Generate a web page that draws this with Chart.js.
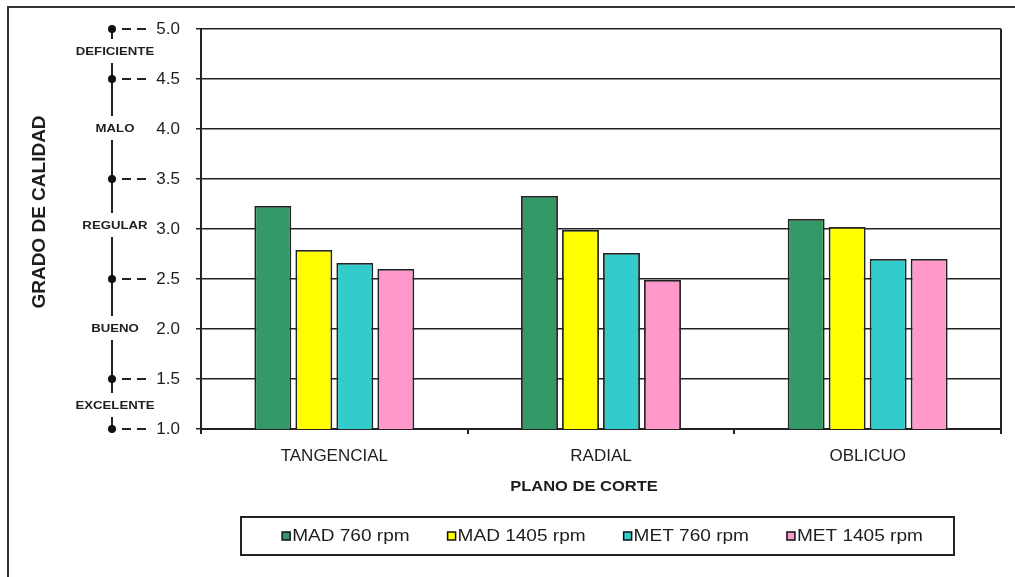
<!DOCTYPE html>
<html>
<head>
<meta charset="utf-8">
<style>
  html, body { margin: 0; padding: 0; background: #ffffff; }
  #wrap { width: 1015px; height: 577px; position: relative; }
</style>
<script src="https://cdn.jsdelivr.net/npm/chart.js@4/dist/chart.umd.min.js"></script>
</head>
<body>
<div id="wrap"><canvas id="c" width="1015" height="577"></canvas></div>
<script>
// Cutting plane categories and the four machining conditions
const categories = ['TANGENCIAL', 'RADIAL', 'OBLICUO'];
const seriesNames = ['MAD 760 rpm', 'MAD 1405 rpm', 'MET 760 rpm', 'MET 1405 rpm'];
const mad760  = [3.23, 3.33, 3.10];
const mad1405 = [2.79, 2.99, 3.02];
const met760  = [2.66, 2.76, 2.70];
const met1405 = [2.60, 2.49, 2.70];
const seriesColors = ['#339966', '#ffff00', '#33cccc', '#ff99cc'];

// Quality grade scale shown beside the value axis
const gradeNames   = ['DEFICIENTE', 'MALO', 'REGULAR', 'BUENO', 'EXCELENTE'];
const gradeCenters = [4.77, 4.0, 3.03, 2.0, 1.23];
const gradeBounds  = [5.0, 4.5, 3.5, 2.5, 1.5, 1.0];

const yMin = 1.0, yMax = 5.0, yStep = 0.5;
const yTitle = 'GRADO DE CALIDAD';
const xTitle = 'PLANO DE CORTE';

const FONT = "'Liberation Sans', Arial, sans-serif";
const INK = '#1e1e1e';
const LINE = '#222222';

function stretchedText(ctx, text, x, y, font, align, sx) {
  ctx.save();
  ctx.font = font;
  ctx.textBaseline = 'middle';
  ctx.textAlign = align;
  ctx.translate(x, y);
  ctx.scale(sx, 1);
  ctx.fillText(text, 0, 0);
  ctx.restore();
}

const decor = {
  id: 'decor',
  afterDraw(chart) {
    const ctx = chart.ctx;
    const area = chart.chartArea;
    const y = chart.scales.y;

    ctx.save();
    ctx.strokeStyle = LINE;
    ctx.fillStyle = INK;

    // right edge of the plot frame
    ctx.lineWidth = 2;
    ctx.beginPath();
    ctx.moveTo(area.right, area.top);
    ctx.lineTo(area.right, area.bottom);
    ctx.stroke();

    // outer chart frame
    ctx.strokeStyle = '#333333';
    ctx.lineWidth = 2;
    ctx.strokeRect(8, 7, 1200, 800);

    // quality grade scale: vertical rule, dots, dashed leaders, labels
    const sx = 112;
    const top = y.getPixelForValue(gradeBounds[0]);
    const bottom = y.getPixelForValue(gradeBounds[gradeBounds.length - 1]);
    const gaps = gradeCenters.map(v => {
      const c = y.getPixelForValue(v);
      return [c - 13, c + 11];
    }).sort((a, b) => a[0] - b[0]);

    ctx.strokeStyle = LINE;
    ctx.lineWidth = 2;
    ctx.beginPath();
    let cur = top;
    gaps.forEach(g => {
      if (g[0] > cur) { ctx.moveTo(sx, cur); ctx.lineTo(sx, g[0]); }
      cur = Math.max(cur, g[1]);
    });
    if (cur < bottom) { ctx.moveTo(sx, cur); ctx.lineTo(sx, bottom); }
    ctx.stroke();

    gradeBounds.forEach(v => {
      const py = y.getPixelForValue(v);
      ctx.beginPath();
      ctx.arc(sx, py, 4, 0, Math.PI * 2);
      ctx.fillStyle = '#111';
      ctx.fill();
      ctx.save();
      ctx.setLineDash([9, 6]);
      ctx.lineWidth = 1.8;
      ctx.beginPath();
      ctx.moveTo(sx + 10, py);
      ctx.lineTo(148, py);
      ctx.stroke();
      ctx.restore();
    });

    ctx.fillStyle = INK;
    gradeNames.forEach((name, i) => {
      const py = y.getPixelForValue(gradeCenters[i]);
      stretchedText(ctx, name, 115, py, `bold 11px ${FONT}`, 'center', 1.2);
    });

    // axis titles
    ctx.save();
    ctx.translate(40, 212);
    ctx.rotate(-Math.PI / 2);
    ctx.font = `bold 19px ${FONT}`;
    ctx.textAlign = 'center';
    ctx.textBaseline = 'middle';
    ctx.fillText(yTitle, 0, 0);
    ctx.restore();

    stretchedText(ctx, xTitle, 584, 487, `bold 15px ${FONT}`, 'center', 1.1);

    // legend box
    const boxL = 241, boxT = 517, boxW = 713, boxH = 38;
    ctx.strokeStyle = LINE;
    ctx.lineWidth = 2;
    ctx.strokeRect(boxL, boxT, boxW, boxH);

    const lf = `16px ${FONT}`;
    const lsx = 1.19;
    ctx.font = lf;
    const sw = 8, tgap = 2, igap = 38;
    const ds = chart.data.datasets;
    const widths = ds.map(d => sw + tgap + ctx.measureText(d.label).width * lsx);
    const total = widths.reduce((a, b) => a + b, 0) + igap * (ds.length - 1);
    let x = boxL + boxW / 2 + 5 - total / 2;
    const cy = boxT + boxH / 2;
    ds.forEach((d, i) => {
      ctx.fillStyle = d.backgroundColor;
      ctx.fillRect(x, cy - 4, sw, sw);
      ctx.lineWidth = 1.5;
      ctx.strokeStyle = '#111';
      ctx.strokeRect(x, cy - 4, sw, sw);
      ctx.fillStyle = INK;
      stretchedText(ctx, d.label, x + sw + tgap, cy + 1, lf, 'left', lsx);
      x += widths[i] + igap;
    });

    ctx.restore();
  }
};

const seriesValues = [mad760, mad1405, met760, met1405];

new Chart(document.getElementById('c'), {
  type: 'bar',
  data: {
    labels: categories,
    datasets: seriesNames.map((name, i) => ({
      label: name,
      data: seriesValues[i],
      backgroundColor: seriesColors[i],
      borderColor: LINE,
      borderWidth: 1.8,
      categoryPercentage: 0.615,
      barPercentage: 0.9
    }))
  },
  options: {
    responsive: false,
    devicePixelRatio: 1,
    animation: false,
    layout: { padding: { top: 29, right: 14, left: 0, bottom: 0 } },
    plugins: {
      legend: { display: false },
      title: { display: false },
      tooltip: { enabled: false }
    },
    scales: {
      x: {
        offset: true,
        grid: {
          display: true,
          drawOnChartArea: false,
          drawTicks: true,
          tickLength: 5,
          color: LINE,
          lineWidth: 2
        },
        border: { display: true, color: LINE, width: 2 },
        ticks: {
          color: INK,
          padding: 12,
          font: { family: FONT, size: 17 }
        },
        afterFit(scale) { scale.height = 148; }
      },
      y: {
        min: yMin,
        max: yMax,
        grid: {
          color: LINE,
          lineWidth: 1.5,
          drawTicks: true,
          tickLength: 5
        },
        border: { display: true, color: LINE, width: 2 },
        ticks: {
          stepSize: yStep,
          color: INK,
          padding: 16,
          font: { family: FONT, size: 17 },
          callback: v => Number(v).toFixed(1)
        },
        afterFit(scale) { scale.width = 201; }
      }
    }
  },
  plugins: [decor]
});
</script>
</body>
</html>
